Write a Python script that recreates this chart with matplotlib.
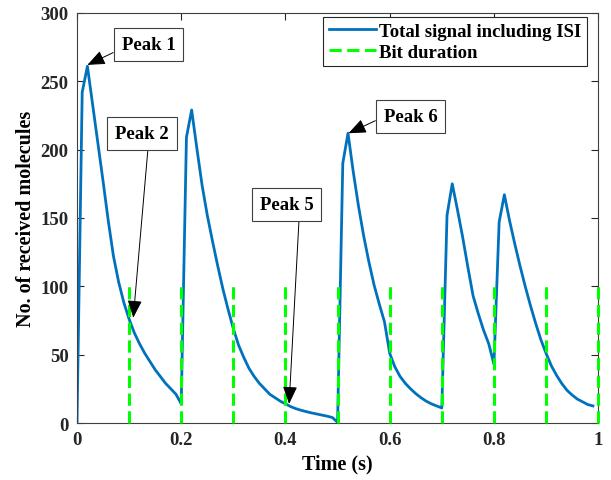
import numpy as np
import matplotlib.pyplot as plt

time_s = [0.00, 0.01, 0.02, 0.03, 0.04, 0.05, 0.06, 0.07, 0.08, 0.09,
          0.10, 0.11, 0.12, 0.13, 0.14, 0.15, 0.16, 0.17, 0.18, 0.19,
          0.20, 0.21, 0.22, 0.23, 0.24, 0.25, 0.26, 0.27, 0.28, 0.29,
          0.30, 0.31, 0.32, 0.33, 0.34, 0.35, 0.36, 0.37, 0.38, 0.39,
          0.40, 0.41, 0.42, 0.43, 0.44, 0.45, 0.46, 0.47, 0.48, 0.49,
          0.50, 0.51, 0.52, 0.53, 0.54, 0.55, 0.56, 0.57, 0.58, 0.59,
          0.60, 0.61, 0.62, 0.63, 0.64, 0.65, 0.66, 0.67, 0.68, 0.69,
          0.70, 0.71, 0.72, 0.73, 0.74, 0.75, 0.76, 0.77, 0.78, 0.79,
          0.80, 0.81, 0.82, 0.83, 0.84, 0.85, 0.86, 0.87, 0.88, 0.89,
          0.90, 0.91, 0.92, 0.93, 0.94, 0.95, 0.96, 0.97, 0.98, 0.99]
molecules = [0, 242, 261, 233, 205, 177, 148, 122, 103, 88,
             76, 66, 58, 51, 45, 39, 34, 29, 25, 21,
             14, 209, 229, 201, 174, 152, 133, 115, 98, 83,
             69, 57, 48, 40, 34, 29, 25, 21, 18.5, 16,
             14, 12, 10.5, 9.3, 8.3, 7.4, 6.6, 5.8, 5.0, 4.0,
             0.5, 190, 212, 184, 159, 137, 118, 101, 87, 74,
             51, 41, 34, 29, 25, 21.5, 18.5, 16, 14, 12.5,
             11, 152, 175, 156, 136, 114, 93, 80, 68, 58,
             43, 147, 167, 148, 131, 115, 100, 86, 73, 61,
             51, 42, 35, 29, 24, 20.5, 17.5, 15.5, 13.5, 12.5]

bit_edges = [0.1, 0.2, 0.3, 0.4, 0.5, 0.6, 0.7, 0.8, 0.9, 1.0]
bit_height = 100

# label, arrow target (t, value), box centre (t, value), arrow start on box
peaks = [
    ("Peak 1", (0.020, 262), (0.137, 277), (0.0, 0.25)),
    ("Peak 2", (0.108, 77), (0.125, 212), (0.62, 0.0)),
    ("Peak 5", (0.407, 14), (0.402, 160), (0.74, 0.0)),
    ("Peak 6", (0.521, 212), (0.640, 224), (0.0, 0.5)),
]

plt.rcParams['font.family'] = 'Liberation Serif'
plt.rcParams['font.weight'] = 'bold'

fig = plt.figure(figsize=(6.11, 4.81), dpi=100)
ax = fig.add_axes([0.126, 0.1185, 0.853, 0.8525])

ax.plot(time_s, molecules, color='#0072BD', lw=2.0, label='Total signal including ISI')
for i, t in enumerate(bit_edges):
    ax.plot([t, t], [0, bit_height], color='#00FF00', lw=2.2, dashes=(4, 1.8),
            clip_on=False, zorder=3, label='Bit duration' if i == 0 else None)

for text, xy, xytext, rp in peaks:
    ax.annotate(text, xy=xy, xytext=xytext, textcoords='data',
                ha='center', va='center', fontsize=13.5, fontweight='bold',
                bbox=dict(boxstyle='square,pad=0.42', fc='white', ec='#404040', lw=0.8),
                arrowprops=dict(arrowstyle='-|>,head_length=0.8,head_width=0.33',
                                color='k', lw=0.7, relpos=rp, shrinkA=0, shrinkB=0))

ax.set_xlim(0, 1)
ax.set_ylim(0, 300)
ax.set_xticks([0, 0.2, 0.4, 0.6, 0.8, 1])
ax.set_xticklabels(['0', '0.2', '0.4', '0.6', '0.8', '1'])
ax.set_yticks(np.arange(0, 301, 50))
ax.tick_params(direction='in', top=True, right=True, length=5, width=0.8,
               labelsize=13.5, colors='#262626', pad=6)
for lab in ax.get_xticklabels() + ax.get_yticklabels():
    lab.set_fontweight('bold')
for sp in ax.spines.values():
    sp.set_color('#404040')
    sp.set_linewidth(0.8)

ax.set_xlabel('Time (s)', fontsize=14.5, fontweight='bold', labelpad=4)
ax.set_ylabel('No. of received molecules', fontsize=14.5, fontweight='bold', labelpad=3)

leg = ax.legend(loc='upper right', bbox_to_anchor=(0.979, 0.99), borderaxespad=0,
                fontsize=13.5, handlelength=2.5, handletextpad=0.2, labelspacing=0.2,
                borderpad=0.3, fancybox=False, framealpha=1, edgecolor='#262626')
leg.get_frame().set_linewidth(0.8)
for t in leg.get_texts():
    t.set_fontweight('bold')

fig.savefig('out.png', dpi=100)
